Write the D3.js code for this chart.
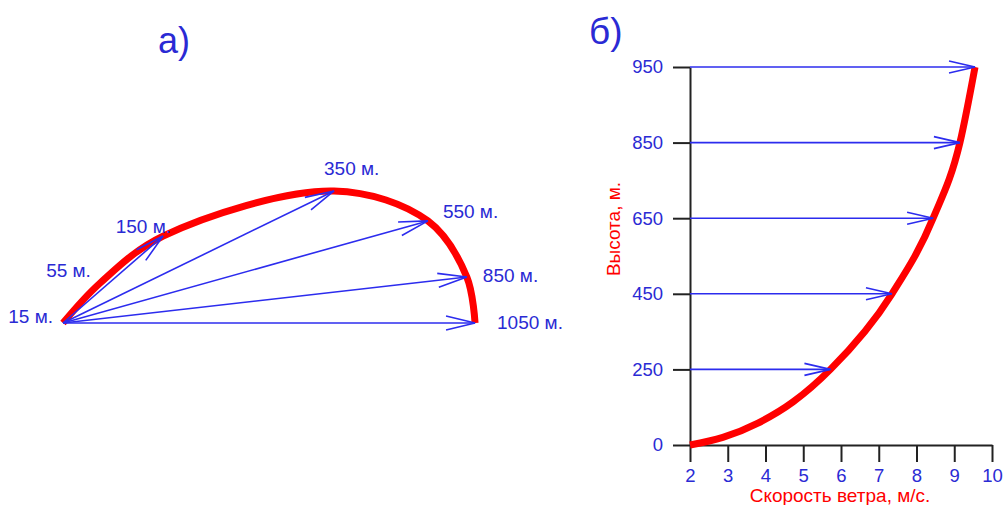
<!DOCTYPE html>
<html>
<head>
<meta charset="utf-8">
<script src="https://cdn.jsdelivr.net/npm/d3@7"></script>
<style>
  body { margin: 0; background: #fff; }
  text { font-family: "Liberation Sans", Arial, sans-serif; }
</style>
</head>
<body>
<div id="chart"></div>
<script>
// --- data ---
// hodograph (a): wind vector tips per height, components in m/s
var hodoHeights = [15, 55, 150, 350, 550, 850, 1050]
var hodoU = [0, 0.9, 2.44, 6.61, 8.9, 9.85, 10.05]
var hodoV = [0, 0.97, 2.12, 3.22, 2.49, 1.12, 0]
var hodoArrows = [150, 350, 550, 850, 1050]

// profile (б): level index on the height axis vs wind speed
var levelLabels = ["0", "250", "450", "650", "850", "950"]
var profileLevel = [0, 0.1, 0.29, 0.57, 1, 2, 3, 4, 5]
var profileSpeed = [2.0, 2.87, 3.8, 4.73, 5.72, 7.35, 8.44, 9.15, 9.55]
var speedTicks = [2, 3, 4, 5, 6, 7, 8, 9, 10]

// --- layout ---
var width = 1008, height = 505
var blue = "#2a2ad4", lineBlue = "#2c2cee", red = "#ff0000", axisCol = "#222"
var font = "Liberation Sans, Arial, sans-serif"

var svg = d3.select("#chart").append("svg")
  .attr("width", width).attr("height", height)

// label offsets relative to the vector tip: [dx, dy, anchor]
var labelPos = {
  15: [-10, 0, "end"], 55: [-9, -6, "end"], 150: [8, -3, "end"],
  350: [-10, -16, "start"], 550: [15, -3, "start"], 850: [16, 5, "start"],
  1050: [22, 6, "start"]
}

function arrow(g, x1, y1, x2, y2, len, w) {
  var a = Math.atan2(y2 - y1, x2 - x1)
  var bx = x2 - len * Math.cos(a), by = y2 - len * Math.sin(a)
  var nx = -Math.sin(a) * w, ny = Math.cos(a) * w
  g.append("line")
    .attr("x1", x1).attr("y1", y1).attr("x2", x2).attr("y2", y2)
    .attr("stroke", lineBlue).attr("stroke-width", 1.6)
  g.append("path")
    .attr("d", "M" + (bx + nx) + "," + (by + ny) + "L" + x2 + "," + y2 + "L" + (bx - nx) + "," + (by - ny))
    .attr("fill", "none").attr("stroke", lineBlue).attr("stroke-width", 1.6)
}

// ===== panel а) =====
var hx = d3.scaleLinear().domain([0, 10]).range([63, 473])
var hy = d3.scaleLinear().domain([0, 10]).range([323, -87])
var hodo = hodoHeights.map(function(h, i) { return { h: h, u: hodoU[i], v: hodoV[i] } })

var left = svg.append("g")
left.append("path")
  .datum(hodo)
  .attr("d", d3.line().x(function(d) { return hx(d.u) }).y(function(d) { return hy(d.v) })
    .curve(d3.curveCatmullRom.alpha(0.5)))
  .attr("fill", "none").attr("stroke", red).attr("stroke-width", 7)

hodo.filter(function(d) { return hodoArrows.indexOf(d.h) >= 0 }).forEach(function(d) {
  arrow(left, hx(0), hy(0), hx(d.u), hy(d.v), 29, 7)
})

hodo.forEach(function(d) {
  var p = labelPos[d.h]
  left.append("text")
    .text(d.h + " м.")
    .attr("x", hx(d.u) + p[0]).attr("y", hy(d.v) + p[1])
    .attr("text-anchor", p[2])
    .style("fill", blue).style("font-size", "19px")
})

svg.append("text").text("а)")
  .attr("x", 158).attr("y", 53)
  .style("fill", blue).style("font-size", "36px")

// ===== panel б) =====
var x = d3.scaleLinear().domain([2, 10]).range([690, 992])
var y = d3.scaleLinear().domain([0, 5]).range([445, 67])

var right = svg.append("g")
var xAxis = d3.axisBottom(x).tickValues(speedTicks).tickSize(17).tickSizeOuter(0).tickPadding(7)
var yAxis = d3.axisLeft(y).tickValues(d3.range(levelLabels.length)).tickSize(17).tickSizeOuter(0).tickPadding(10)
  .tickFormat(function(i) { return levelLabels[i] })

var gx = right.append("g").attr("transform", "translate(0," + y(0) + ")").call(xAxis)
var gy = right.append("g").attr("transform", "translate(" + x(2) + ",0)").call(yAxis)
;[gx, gy].forEach(function(g) {
  g.selectAll("path, line").attr("stroke", axisCol).attr("stroke-width", 2)
  g.selectAll("text").style("fill", blue).style("font-size", "18.5px").style("font-family", font)
})

var profile = profileLevel.map(function(l, i) { return { level: l, speed: profileSpeed[i] } })
right.append("path")
  .datum(profile)
  .attr("d", d3.line().x(function(d) { return x(d.speed) }).y(function(d) { return y(d.level) })
    .curve(d3.curveMonotoneX))
  .attr("fill", "none").attr("stroke", red).attr("stroke-width", 7)

profile.filter(function(d) { return d.level >= 1 && d.level % 1 === 0 }).forEach(function(d) {
  arrow(right, x(2), y(d.level), x(d.speed), y(d.level), 26, 6)
})

right.append("text").text("Скорость ветра, м/с.")
  .attr("x", 840).attr("y", 502).attr("text-anchor", "middle")
  .style("fill", red).style("font-size", "19px")
right.append("text").text("Высота, м.")
  .attr("transform", "translate(620,229) rotate(-90)").attr("text-anchor", "middle")
  .style("fill", red).style("font-size", "19px")

svg.append("text").text("б)")
  .attr("x", 589).attr("y", 44)
  .style("fill", blue).style("font-size", "37px")
</script>
</body>
</html>
